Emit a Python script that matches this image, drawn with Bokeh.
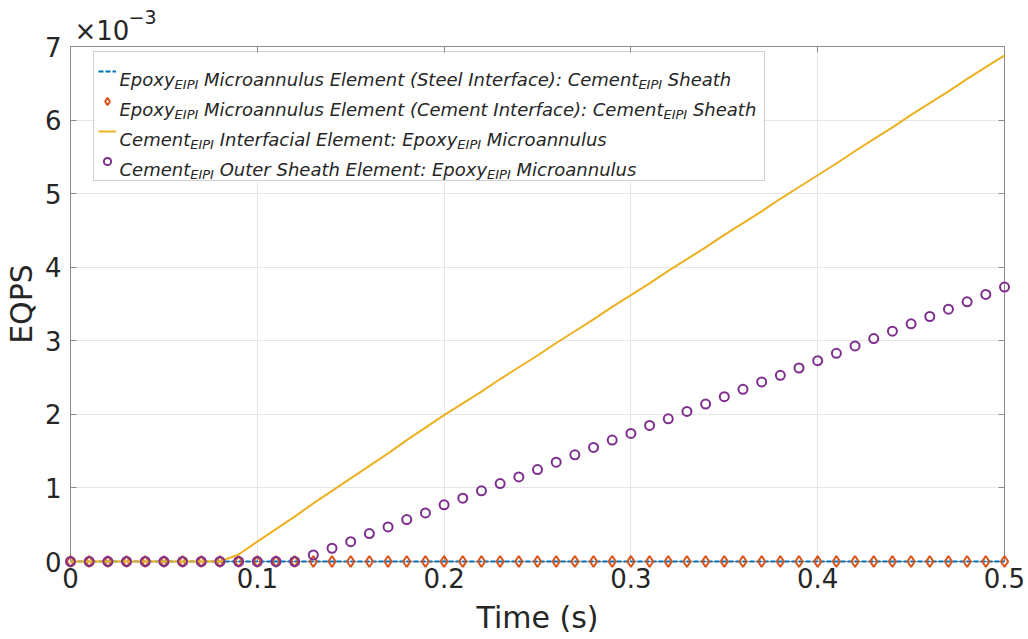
from bokeh.plotting import figure
from bokeh.models import (Range1d, LinearAxis, FixedTicker, CustomJSTickFormatter,
                          Legend, LegendItem)
from bokeh.core.properties import value
from bokeh.embed import file_html
from bokeh.resources import INLINE

# ---------------- data (EQPS in units of 1e-3) ----------------
time_s = [0.00, 0.01, 0.02, 0.03, 0.04, 0.05, 0.06, 0.07, 0.08, 0.09,
          0.10, 0.11, 0.12, 0.13, 0.14, 0.15, 0.16, 0.17, 0.18, 0.19,
          0.20, 0.21, 0.22, 0.23, 0.24, 0.25, 0.26, 0.27, 0.28, 0.29,
          0.30, 0.31, 0.32, 0.33, 0.34, 0.35, 0.36, 0.37, 0.38, 0.39,
          0.40, 0.41, 0.42, 0.43, 0.44, 0.45, 0.46, 0.47, 0.48, 0.49, 0.50]

epoxy_steel = [0.0] * 51
epoxy_cement = [0.0] * 51
cement_interfacial = [0.0, 0.0, 0.0, 0.0, 0.0, 0.0, 0.0, 0.0, 0.0, 0.095,
                      0.27, 0.44, 0.61, 0.79, 0.96, 1.13, 1.30, 1.47, 1.65, 1.82,
                      1.99, 2.15, 2.31, 2.48, 2.64, 2.80, 2.97, 3.13, 3.29, 3.46,
                      3.62, 3.78, 3.95, 4.11, 4.27, 4.44, 4.60, 4.76, 4.93, 5.09,
                      5.25, 5.41, 5.58, 5.74, 5.90, 6.07, 6.23, 6.39, 6.56, 6.72, 6.88]
cement_outer = [0.0, 0.0, 0.0, 0.0, 0.0, 0.0, 0.0, 0.0, 0.0, 0.0,
                0.0, 0.0, 0.0, 0.09, 0.18, 0.27, 0.38, 0.47, 0.57, 0.66,
                0.77, 0.86, 0.96, 1.06, 1.15, 1.25, 1.35, 1.45, 1.55, 1.65,
                1.74, 1.85, 1.94, 2.04, 2.14, 2.24, 2.34, 2.44, 2.53, 2.63,
                2.73, 2.83, 2.93, 3.03, 3.13, 3.23, 3.33, 3.43, 3.53, 3.63, 3.73]

x_ticks = [0, 0.1, 0.2, 0.3, 0.4, 0.5]
y_ticks = [0, 1, 2, 3, 4, 5, 6, 7]

legend_rows = [
    [("Epoxy", 0), ("EIPI", 1), (" Microannulus Element (Steel Interface): Cement", 0), ("EIPI", 1), (" Sheath", 0)],
    [("Epoxy", 0), ("EIPI", 1), (" Microannulus Element (Cement Interface): Cement", 0), ("EIPI", 1), (" Sheath", 0)],
    [("Cement", 0), ("EIPI", 1), (" Interfacial Element: Epoxy", 0), ("EIPI", 1), (" Microannulus", 0)],
    [("Cement", 0), ("EIPI", 1), (" Outer Sheath Element: Epoxy", 0), ("EIPI", 1), (" Microannulus", 0)],
]

# ---------------- styling ----------------
BLUE, ORANGE, YELLOW, PURPLE = "#0072BD", "#D95319", "#EDB120", "#7E2F8E"
TXT = "#262626"
AX = "#8c8c8c"
FONT = "DejaVu Sans"

FL, FB, FR, FT = 70, 78, 24, 46  # frame borders
W, H = 1028, 639
FW, FH = W - FL - FR, H - FB - FT
X0, X1, Y0, Y1 = 0.0, 0.5, 0.0, 7.0


def px_x(px):  # canvas pixel -> data x (layout helper for annotations)
    return X0 + (px - FL) / FW * (X1 - X0)


def px_y(py):  # canvas pixel -> data y (layout helper for annotations)
    return Y0 + (H - FB - py) / FH * (Y1 - Y0)


p = figure(width=W, height=H, x_range=Range1d(X0, X1), y_range=Range1d(Y0, Y1),
           output_backend="svg", toolbar_location=None,
           min_border_left=FL, min_border_right=FR, min_border_top=FT, min_border_bottom=FB)
p.background_fill_color = "white"
p.border_fill_color = "white"
p.outline_line_color = AX

xa = p.xaxis[0]
ya = p.yaxis[0]
xa.ticker = FixedTicker(ticks=x_ticks)
ya.ticker = FixedTicker(ticks=y_ticks)
xa.formatter = CustomJSTickFormatter(code="return tick == 0 ? '0' : tick.toFixed(1)")
ya.formatter = CustomJSTickFormatter(code="return tick.toFixed(0)")
for ax in (xa, ya):
    ax.axis_line_color = AX
    ax.major_tick_line_color = AX
    ax.major_tick_in = 6
    ax.major_tick_out = 0
    ax.minor_tick_line_color = None
    ax.major_label_text_font = FONT
    ax.major_label_text_font_size = "26px"
    ax.major_label_text_color = TXT
    ax.axis_label_text_font = FONT
    ax.axis_label_text_font_size = "30px"
    ax.axis_label_text_font_style = "normal"
    ax.axis_label_text_color = TXT
xa.major_label_standoff = 6
ya.major_label_standoff = 9
xa.axis_label = "Time (s)"
xa.axis_label_standoff = 9
ya.axis_label = "EQPS"
ya.axis_label_standoff = 3

top_ax = LinearAxis(ticker=FixedTicker(ticks=x_ticks), major_label_text_color=None,
                    major_label_text_font_size="1px", major_label_standoff=0,
                    axis_line_color=AX, major_tick_line_color=AX, major_tick_in=6,
                    major_tick_out=0, minor_tick_line_color=None)
right_ax = LinearAxis(ticker=FixedTicker(ticks=y_ticks), major_label_text_color=None,
                      major_label_text_font_size="1px", major_label_standoff=0,
                      axis_line_color=AX, major_tick_line_color=AX, major_tick_in=6,
                      major_tick_out=0, minor_tick_line_color=None)
p.add_layout(top_ax, "above")
p.add_layout(right_ax, "right")

p.xgrid.ticker = FixedTicker(ticks=x_ticks)
p.ygrid.ticker = FixedTicker(ticks=y_ticks)
p.xgrid.grid_line_color = "#e6e6e6"
p.ygrid.grid_line_color = "#e6e6e6"

# ---------------- legend background (white panel hiding the grid) ----------------
box_left, box_top = 93, 53
pad, row_h = 4, 30
leg_h = 2 * pad + 4 * row_h
box_right = 763
p.quad(left=[px_x(box_left)], right=[px_x(box_right)], top=[px_y(box_top)],
       bottom=[px_y(box_top + leg_h)], fill_color="white", line_color=None)

# ---------------- series ----------------
r_blue = p.line(time_s, epoxy_steel, line_color=BLUE, line_width=2, line_dash="5 2")
r_orange = p.scatter(time_s, epoxy_cement, marker="diamond", size=11, line_color=ORANGE,
                     line_width=2, fill_color=None)
r_yellow = p.line(time_s, cement_interfacial, line_color=YELLOW, line_width=2)
r_purple = p.scatter(time_s, cement_outer, marker="circle", size=9, line_color=PURPLE,
                     line_width=2, fill_color=None)
for r in (r_blue, r_orange, r_yellow, r_purple):
    r.level = "overlay"

# ---------------- legend (symbols + border) ----------------
legend = Legend(items=[LegendItem(label=value(" "), renderers=[r]) for r in
                       (r_blue, r_orange, r_yellow, r_purple)],
                location=(box_left - FL, H - FB - (box_top + leg_h)),
                padding=pad, spacing=0, margin=0, glyph_width=18, glyph_height=row_h,
                label_height=row_h, label_width=box_right - box_left - 2 * pad - 18 - 3,
                label_standoff=3, border_line_color="#a0a0a0", border_line_width=1,
                background_fill_alpha=0.0, label_text_font_size="10px")
p.add_layout(legend)

# DejaVu Sans advance widths (units of 2048)
ADV = {' ': 651, '(': 799, ')': 799, ':': 690, 'C': 1430, 'E': 1294, 'I': 604, 'M': 1767,
       'O': 1612, 'P': 1235, 'S': 1300, 'a': 1255, 'c': 1126, 'e': 1260, 'f': 721,
       'h': 1298, 'i': 569, 'l': 569, 'm': 1995, 'n': 1298, 'o': 1253, 'p': 1300,
       'r': 842, 's': 1067, 't': 803, 'u': 1298, 'x': 1212, 'y': 1212}


def tw(s, size):
    return sum(ADV.get(ch, 1200) for ch in s) / 2048.0 * size


def put_text(px, py, txt, size, style="normal"):
    r = p.text(x=[px_x(px)], y=[px_y(py)], text=[txt], text_font=value(FONT),
               text_font_size=value(f"{size}px"), text_font_style=value(style),
               text_color=TXT, text_baseline="alphabetic", text_align="left")
    r.level = "overlay"
    return r


LEG_FS, SUB_FS = 18, 13
text_x0 = 119
for i, row in enumerate(legend_rows):
    center = box_top + pad + row_h * i + row_h / 2
    base = center + 7
    x = text_x0
    for txt, sub in row:
        fs = SUB_FS if sub else LEG_FS
        body = txt.lstrip(" ")
        x += tw(txt[:len(txt) - len(body)], fs)  # leading blanks are not drawn by SVG
        put_text(x, base + (5 if sub else 0), body, fs, "italic")
        x += tw(body, fs)

# exponent above the axes
put_text(74, 30, "\u00d710", 26)
put_text(128, 16, "\u22123", 19)

open("out.html", "w").write(file_html(p, INLINE))
